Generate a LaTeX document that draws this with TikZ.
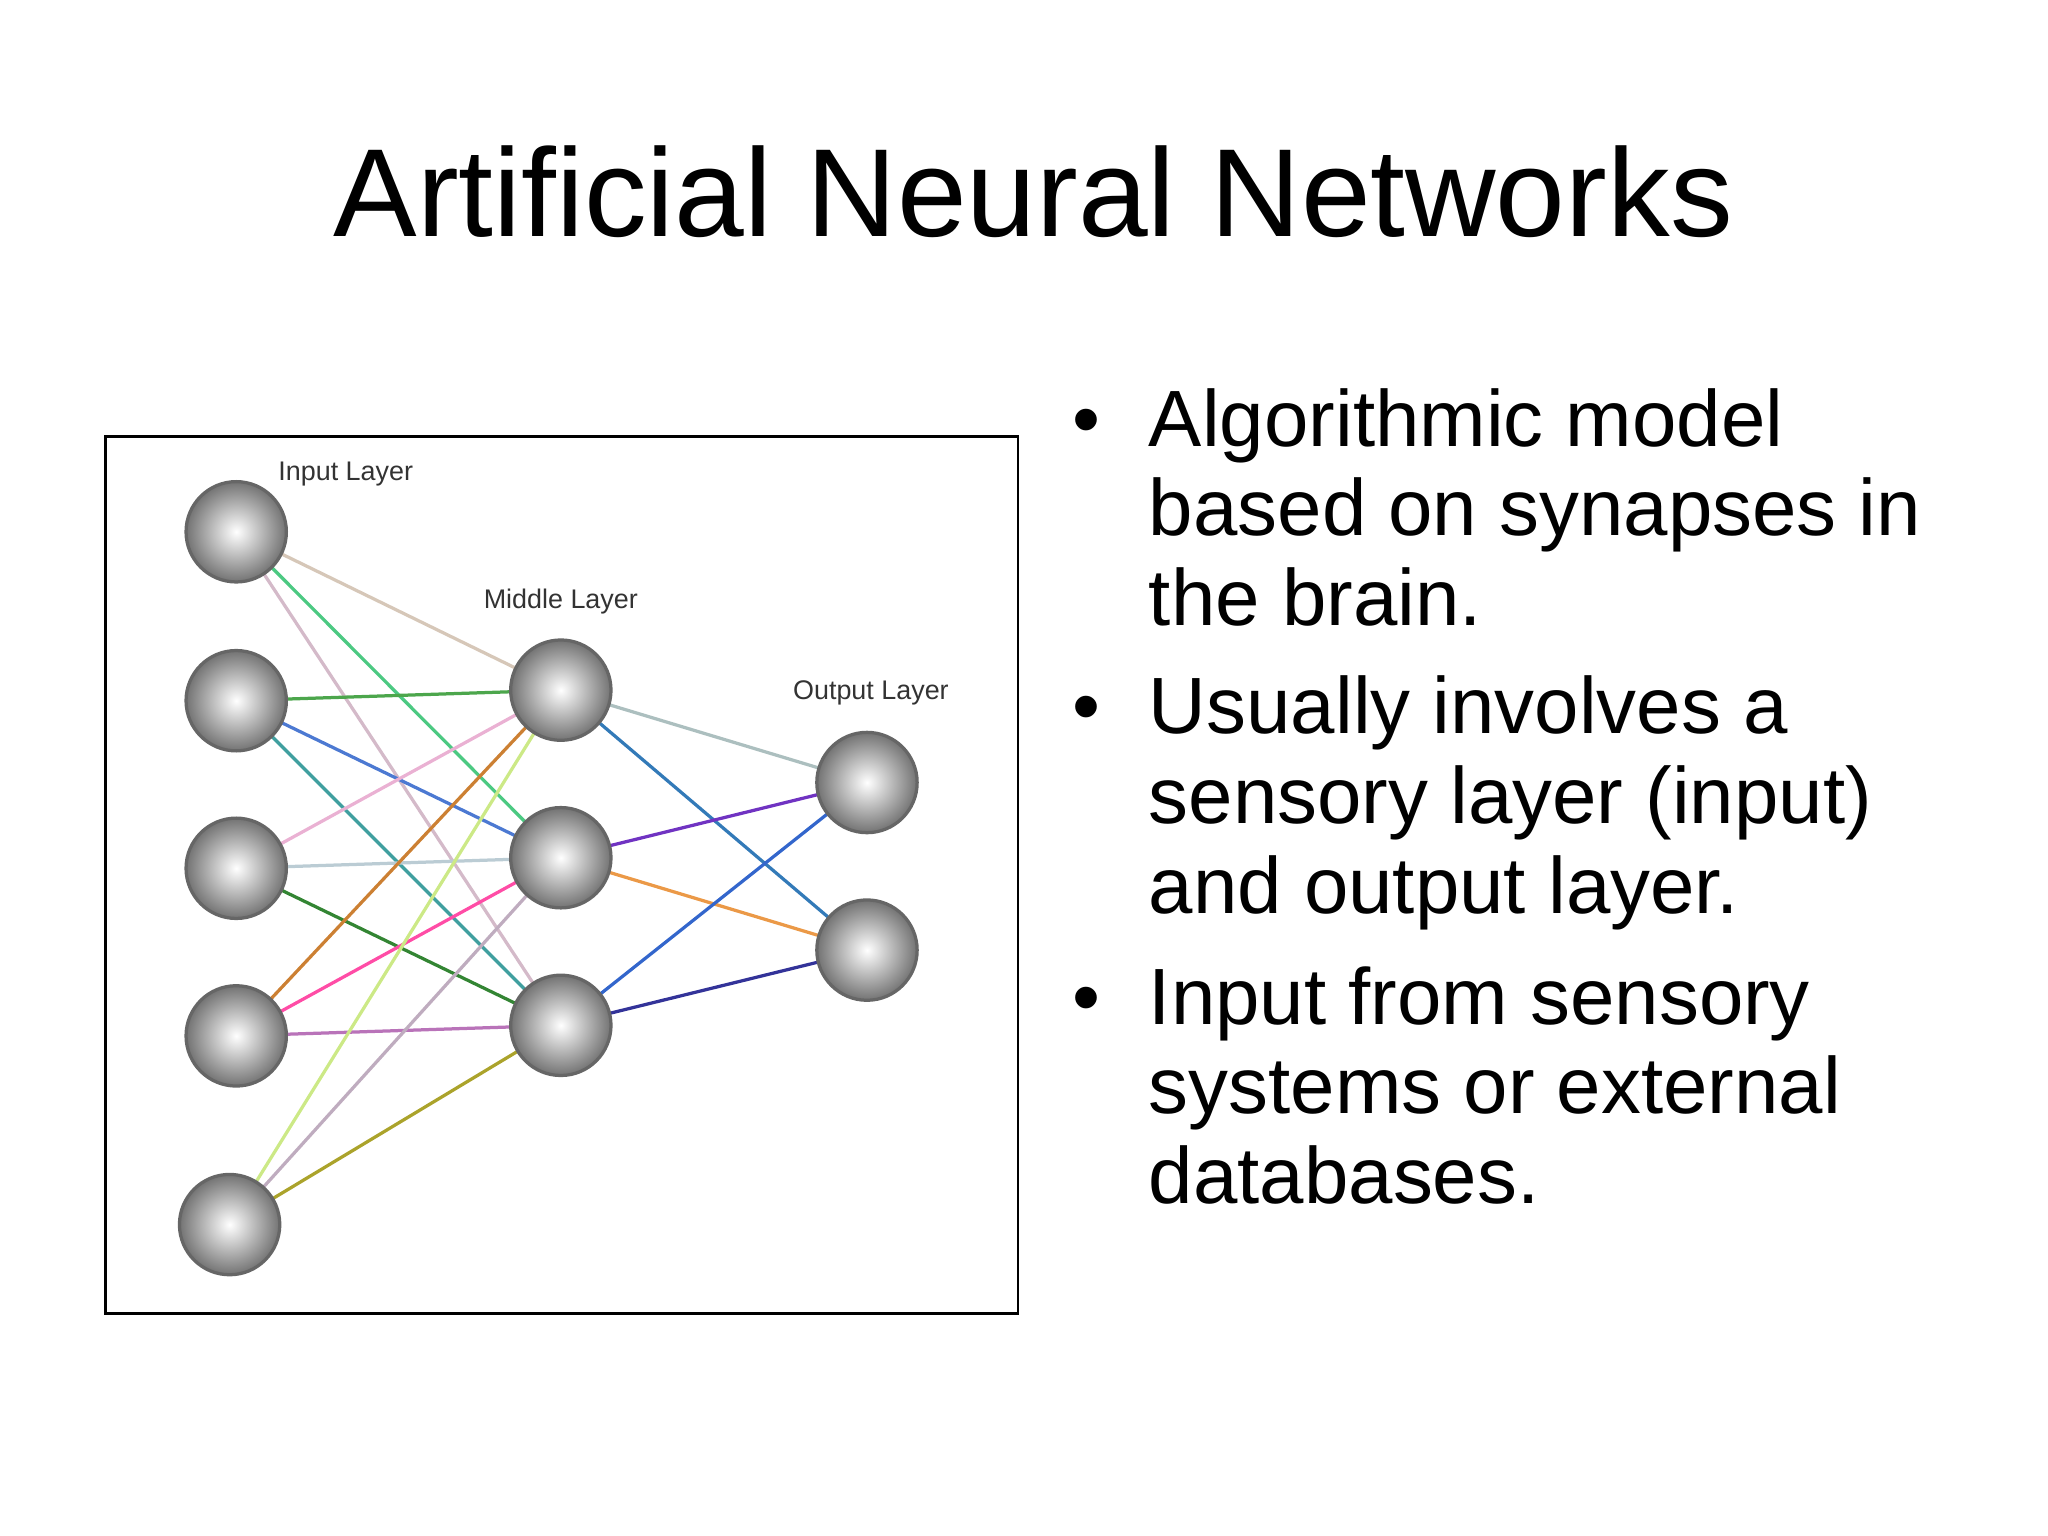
\documentclass[tikz,border=0pt]{standalone}
\usepackage{fontspec}
\setmainfont{Liberation Sans}
\usetikzlibrary{backgrounds}
\begin{document}
\begin{tikzpicture}[x=0.01cm,y=-0.01cm,
  neuron/.style={circle,minimum size=0.76cm,inner sep=0pt,draw=black!60,line width=0.7pt,
    inner color=white,outer color=black!55},
  lab/.style={font=\fontsize{5.8pt}{7pt}\selectfont,text=black!80},
  syn/.style={line width=0.7pt}]
\useasboundingbox (0,0) rectangle (1552,1164);
\node[font=\fontsize{27pt}{32pt}\selectfont] (title) at (783,145) {Artificial Neural Networks};
\node[draw=black,line width=0.6pt,minimum width=6.91cm,minimum height=6.64cm,anchor=north west] (frame) at (79,330) {};
\foreach \n/\x/\y in {i1/179/403,i2/179/531,i3/179/658,i4/179/785,i5/174/928,m1/425/523,m2/425/650,m3/425/777,o1/657/593,o2/657/720}
  \node[neuron] (\n) at (\x,\y) {};
\node[lab] (li) at (262,359) {Input Layer};
\node[lab] (lm) at (425,456) {Middle Layer};
\node[lab] (lo) at (660,525) {Output Layer};
\begin{scope}[on background layer]
\foreach \a/\b/\c in {i1/m1/{brown!30!white!80!gray},i1/m2/{teal!60!green!70},i1/m3/{magenta!25!gray!50},
  i2/m1/{green!50!black!70},i2/m2/{teal!50!blue!70},i2/m3/{teal!75},
  i3/m1/{magenta!30!white!85!gray},i3/m2/{cyan!25!gray!50},i3/m3/{green!40!black!80},
  i4/m1/{orange!60!gray},i4/m2/{red!50!magenta!70},i4/m3/{violet!55},
  i5/m1/{yellow!60!green!50},i5/m2/{violet!30!gray!50},i5/m3/{olive!75},
  m1/o1/{teal!30!gray!50},m1/o2/{teal!70!blue!80},m2/o1/{violet!60!blue!80},m2/o2/{orange!60!brown!80},
  m3/o1/{blue!50!teal!80},m3/o2/{blue!50!black!80}}
  \draw[syn,draw=\c] (\a.center) -- (\b.center);
\end{scope}
\begin{scope}[font=\fontsize{17.2pt}{19.4pt}\selectfont]
\foreach \y/\t in {318/Algorithmic model,386/based on synapses in,454/the brain.,
  536/Usually involves a,604/sensory layer (input),672/and output layer.,
  756/Input from sensory,824/systems or external,892/databases.}
  \node[anchor=base west,inner sep=0pt] at (870,\y+20) {\t};
\foreach \y in {318,536,756}
  \node[anchor=base,inner sep=0pt] at (823,\y+20) {\textbullet};
\end{scope}
\end{tikzpicture}
\end{document}
